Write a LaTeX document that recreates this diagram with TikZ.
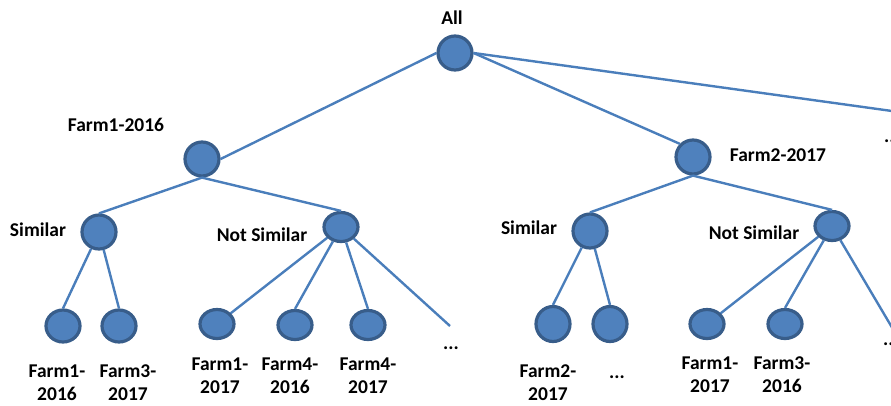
\documentclass[tikz,border=0pt]{standalone}
\usepackage{fontspec}
\setmainfont{Carlito}
\usetikzlibrary{shapes.geometric}
\definecolor{nodefill}{HTML}{4F81BD}
\definecolor{nodeedge}{HTML}{385D8A}
\definecolor{edgecol}{HTML}{4A7EBB}
\begin{document}
\begin{tikzpicture}[x=1pt,y=-1pt,
  vert/.style={ellipse, draw=nodeedge, fill=nodefill, line width=3.2pt, inner sep=0pt, minimum width=34pt, minimum height=34pt},
  flatv/.style={vert, minimum height=29pt},
  midv/.style={vert, minimum height=32pt},
  tallv/.style={vert, minimum height=35pt},
  lbl/.style={font=\fontsize{19.5}{23}\selectfont\bfseries, text=black, inner sep=0pt, align=center},
  link/.style={draw=edgecol, line width=2.4pt}]
\useasboundingbox (0,0) rectangle (891,405);
\clip (0,0) rectangle (891,405);
% internal nodes
\node[vert] (all) at (455,53) {};
\node[vert] (f1) at (202,159) {};
\node[vert] (f2) at (693,157) {};
\node[vert] (s1) at (99,232) {};
\node[flatv] (n1) at (341,227) {};
\node[vert] (s2) at (590,231) {};
\node[flatv] (n2) at (832,226) {};
% leaves
\node[midv] (l1) at (63,326) {};
\node[midv] (l2) at (119,326) {};
\node[flatv] (l3) at (217,324) {};
\node[flatv] (l4) at (295,325) {};
\node[flatv] (l5) at (368,325) {};
\node[tallv] (l6) at (553,324) {};
\node[tallv] (l7) at (610,324) {};
\node[flatv] (l8) at (707,324) {};
\node[flatv] (l9) at (785,324) {};
% free ends
\coordinate (d1top) at (450,326);
\coordinate (offa) at (910,113.5);
\coordinate (offb) at (900,341);
% edges
\draw[link] (all.west) -- (f1.east);
\draw[link] (all.east) -- (f2.north west);
\draw[link] (all.east) -- (offa);
\draw[link] (f1.south) -- (s1.north);
\draw[link] (f1.south) -- (n1.north);
\draw[link] (f2.south) -- (s2.north);
\draw[link] (f2.south) -- (n2.north);
\draw[link] (s1) -- (l1.north);
\draw[link] (s1) -- (l2.north);
\draw[link] (n1) -- (l3);
\draw[link] (n1) -- (l4.north);
\draw[link] (n1) -- (l5.north);
\draw[link] (n1) -- (d1top);
\draw[link] (s2) -- (l6.north);
\draw[link] (s2) -- (l7.north);
\draw[link] (n2) -- (l8);
\draw[link] (n2) -- (l9.north);
\draw[link] (n2) -- (offb);
% labels
\node[lbl] (tall) at (452,18) {All};
\node[lbl] (tf1) at (116,125) {Farm1-2016};
\node[lbl] (tf2) at (778,155) {Farm2-2017};
\node[lbl] (ts1) at (38,230) {Similar};
\node[lbl] (tn1) at (262,235) {Not Similar};
\node[lbl] (ts2) at (529,228) {Similar};
\node[lbl] (tn2) at (754,233) {Not Similar};
\node[lbl] (tl1) at (57,383) {Farm1-\\2016};
\node[lbl] (tl2) at (128,383) {Farm3-\\2017};
\node[lbl] (tl3) at (220,376) {Farm1-\\2017};
\node[lbl] (tl4) at (290,376) {Farm4-\\2016};
\node[lbl] (tl5) at (368,376) {Farm4-\\2017};
\node[lbl] (td1) at (451,348) {...};
\node[lbl] (tl6) at (548,383) {Farm2-\\2017};
\node[lbl] (td2) at (617,377) {...};
\node[lbl] (tl8) at (710,375) {Farm1-\\2017};
\node[lbl] (tl9) at (782,375) {Farm3-\\2016};
\node[lbl, anchor=west] (td3) at (884,141) {...};
\node[lbl, anchor=west] (td4) at (883,344) {...};
\end{tikzpicture}
\end{document}
